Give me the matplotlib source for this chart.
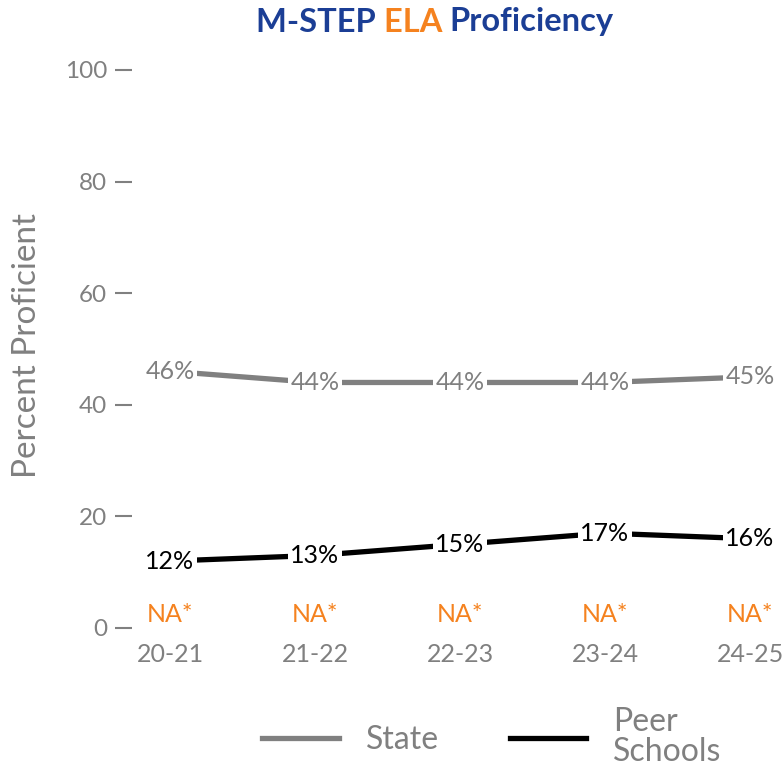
import matplotlib
matplotlib.use("Agg")
import matplotlib.pyplot as plt
from matplotlib.lines import Line2D

plt.rcParams['font.family'] = ['Lato', 'DejaVu Sans']

categories = ["20-21", "21-22", "22-23", "23-24", "24-25"]
state = [46, 44, 44, 44, 45]
peer = [12, 13, 15, 17, 16]
school_labels = ["NA*", "NA*", "NA*", "NA*", "NA*"]
yticks = [0, 20, 40, 60, 80, 100]

GRAY = "#808080"
BLUE = "#1B3E95"
ORANGE = "#F5821F"

fig = plt.figure(figsize=(7.84, 7.71), dpi=100)
W, H = 784, 771
ax = fig.add_axes([132 / W, 1 - 628 / H, (784 - 132) / W, (628 - 70) / H])

x = list(range(len(categories)))
ax.plot(x, state, color=GRAY, lw=3.8, zorder=2, solid_capstyle='butt')
ax.plot(x, peer, color="black", lw=3.8, zorder=2, solid_capstyle='butt')

for xi, v in zip(x, state):
    ax.text(xi, v, f"{v}%", ha='center', va='center', fontsize=18, color=GRAY,
            zorder=3, bbox=dict(boxstyle='square,pad=0.08', fc='white', ec='none'))
for xi, v in zip(x, peer):
    ax.text(xi, v, f"{v}%", ha='center', va='center', fontsize=18, color="black",
            zorder=3, bbox=dict(boxstyle='square,pad=0.08', fc='white', ec='none'))

trans = ax.get_xaxis_transform()
for xi, s in zip(x, school_labels):
    ax.text(xi, 13 / 558, s, ha='center', va='center', fontsize=18, color=ORANGE, transform=trans)

ax.set_xlim(-38 / 145, (784 - 170) / 145)
ax.set_ylim(0, 100)
ax.set_xticks(x)
ax.set_xticklabels(categories)
ax.tick_params(axis='x', length=0, labelcolor=GRAY, labelsize=18, pad=11)
ax.set_yticks(yticks)
ax.set_yticklabels([str(t) for t in yticks])
ax.tick_params(axis='y', length=12, width=1.5, color=GRAY, labelcolor=GRAY,
               labelsize=17.5, pad=6, direction='out')
for sp in ax.spines.values():
    sp.set_visible(False)
ax.set_ylabel("Percent Proficient", fontsize=24, color=GRAY)
ax.yaxis.set_label_coords(-(132 - 42) / (784 - 132), (628 - 345) / 558)

# Title with multiple colours
parts = [("M-STEP ", BLUE), ("ELA ", ORANGE), ("Proficiency", BLUE)]
fig.canvas.draw()
r = fig.canvas.get_renderer()
texts = []
for s, col in parts:
    t = fig.text(0, 1 - 22 / H, s, fontsize=23.5, fontweight='bold', color=col, va='center', ha='left')
    texts.append(t)
widths = [t.get_window_extent(r).width for t in texts]
total = sum(widths)
cx = 435
xpos = cx - total / 2
for t, w in zip(texts, widths):
    t.set_x(xpos / W)
    xpos += w

handles = [Line2D([], [], color=GRAY, lw=3.8), Line2D([], [], color="black", lw=3.8)]
leg = fig.legend(handles, ["State", "Peer\nSchools"], loc='center', bbox_to_anchor=(492 / W, 1 - 737 / H),
                 ncol=2, frameon=False, fontsize=23, labelcolor=GRAY, handlelength=2.4,
                 columnspacing=2.2, handletextpad=0.85)
for t in leg.get_texts():
    t.set_linespacing(1.0)

fig.savefig("out.png", dpi=100)
